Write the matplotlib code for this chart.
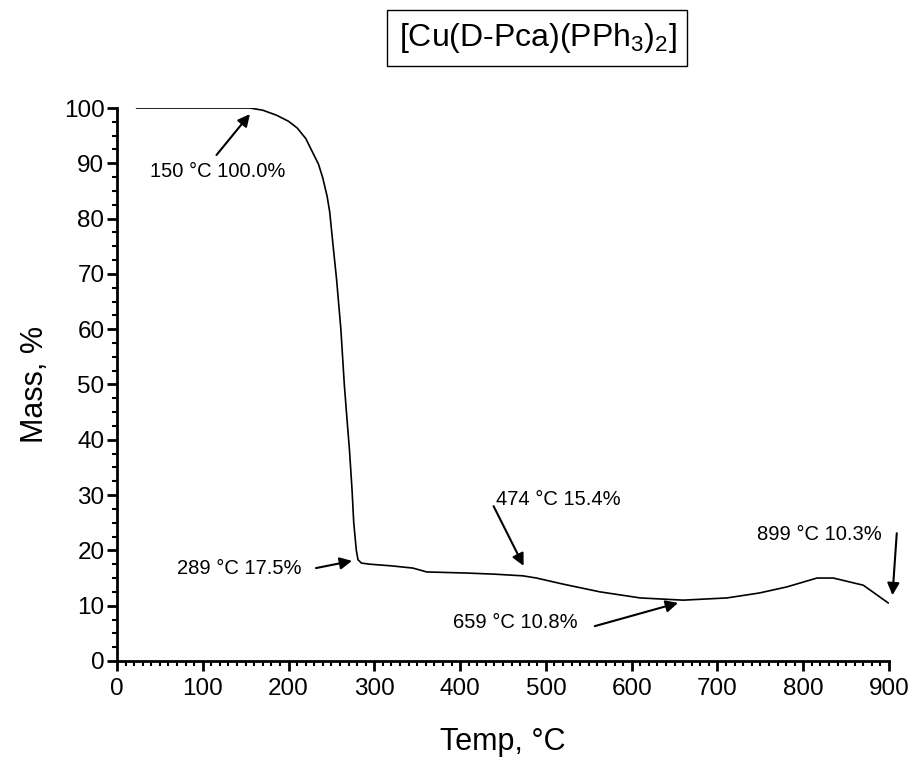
import matplotlib.pyplot as plt
from matplotlib.ticker import MultipleLocator

plt.rcParams['font.family'] = ['Liberation Sans', 'DejaVu Sans']
plt.rcParams['mathtext.default'] = 'regular'

# TGA curve
temp = [23, 60, 100, 130, 155, 170, 186, 200, 210, 220, 228, 235, 240, 245,
        248, 252, 256, 261, 265, 268, 271, 274, 276, 279, 281, 285, 295, 320,
        345, 361, 385, 408, 440, 473, 489, 520, 563, 610, 660, 711, 749, 781,
        816, 835, 870, 899]
mass = [100.0, 100.0, 100.0, 100.0, 100.0, 99.6, 98.7, 97.6, 96.4, 94.5, 92.0,
        89.8, 87.3, 84.0, 81.2, 75.0, 69.0, 60.0, 50.0, 44.0, 38.2, 31.0, 25.0,
        20.0, 18.3, 17.7, 17.5, 17.2, 16.8, 16.1, 16.0, 15.9, 15.7, 15.4, 15.0,
        13.9, 12.5, 11.4, 11.0, 11.4, 12.3, 13.4, 15.0, 15.0, 13.7, 10.5]

# annotations: label, arrow head (x, y), arrow tail (x, y), text position
labels = ['150 °C 100.0%', '289 °C 17.5%', '474 °C 15.4%', '659 °C 10.8%', '899 °C 10.3%']
heads = [(155, 98.9), (274, 18.1), (474, 17.2), (654, 10.5), (904, 11.9)]
tails = [(116, 91.5), (232, 16.8), (439, 28.0), (557, 6.3), (909, 23.1)]
text_pos = [(38, 88.6), (70, 16.8), (442, 29.2), (392, 6.9), (746, 22.9)]

fig = plt.figure(figsize=(9.11, 7.58), dpi=100)
ax = fig.add_axes([0.1284, 0.128, 0.8475, 0.7295])

ax.plot(temp, mass, color='black', lw=1.2)

for lab, h, t, p in zip(labels, heads, tails, text_pos):
    ax.annotate('', xy=h, xytext=t, annotation_clip=False,
                arrowprops=dict(arrowstyle='-|>', color='black', lw=1.5,
                                mutation_scale=18, shrinkA=0, shrinkB=0))
    ax.text(p[0], p[1], lab, fontsize=14.5, ha='left', va='center')

ax.set_xlim(0, 900)
ax.set_ylim(0, 100)
ax.xaxis.set_major_locator(MultipleLocator(100))
ax.xaxis.set_minor_locator(MultipleLocator(10))
ax.yaxis.set_major_locator(MultipleLocator(10))
ax.yaxis.set_minor_locator(MultipleLocator(2.5))
ax.tick_params(which='major', direction='out', length=7, width=2, labelsize=17.5, pad=5)
ax.tick_params(axis='y', which='major', pad=2)
ax.tick_params(which='minor', direction='out', length=3.5, width=1.5)

for s in ['top', 'right']:
    ax.spines[s].set_visible(False)
for s in ['left', 'bottom']:
    ax.spines[s].set_linewidth(2)

ax.set_xlabel('Temp, °C', fontsize=22, labelpad=20)
ax.set_ylabel('Mass, %', fontsize=22, labelpad=10)

fig.text(0.59, 0.95, r'[Cu(D-Pca)(PPh$_3$)$_2$]', fontsize=23, ha='center', va='center',
         bbox=dict(boxstyle='square,pad=0.35', fc='white', ec='black', lw=1))

fig.savefig('out.png', dpi=100)
